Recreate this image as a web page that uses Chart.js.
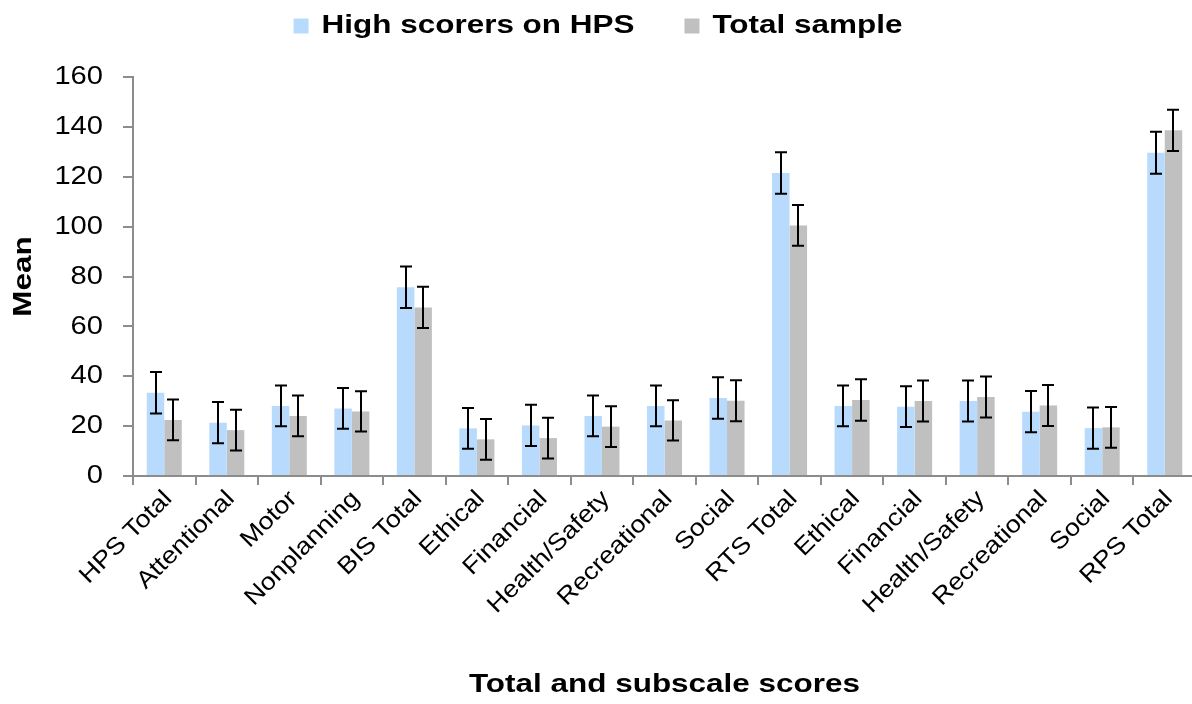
<!DOCTYPE html>
<html>
<head>
<meta charset="utf-8">
<script src="https://cdn.jsdelivr.net/npm/chart.js@4.4.1/dist/chart.umd.min.js"></script>
<style>
  html, body { margin: 0; padding: 0; background: #fff; overflow: hidden; }
  #wrap { width: 1200px; height: 704px; position: relative; }
</style>
</head>
<body>
<div id="wrap"><canvas id="c"></canvas></div>
<script>
// Subscale and total scores
const categories = ['HPS Total', 'Attentional', 'Motor', 'Nonplanning', 'BIS Total',
  'Ethical', 'Financial', 'Health/Safety', 'Recreational', 'Social', 'RTS Total',
  'Ethical', 'Financial', 'Health/Safety', 'Recreational', 'Social', 'RPS Total'];

// Means
const highScorers = [33.4, 21.4, 28.1, 27.1, 75.7, 19.1, 20.3, 24.1, 28.1, 31.3, 121.5, 28.1, 27.8, 30.1, 25.8, 19.2, 129.6];
const totalSample = [22.5, 18.4, 24.1, 25.9, 67.6, 14.7, 15.2, 19.8, 22.3, 30.2, 100.5, 30.5, 30.1, 31.7, 28.3, 19.5, 138.6];

// Error bar half-lengths
const highScorersErr = [8.3, 8.3, 8.2, 8.2, 8.3, 8.2, 8.3, 8.2, 8.2, 8.3, 8.3, 8.2, 8.2, 8.2, 8.3, 8.3, 8.4];
const totalSampleErr = [8.2, 8.2, 8.2, 8.1, 8.3, 8.2, 8.2, 8.2, 8.1, 8.2, 8.2, 8.3, 8.2, 8.2, 8.2, 8.2, 8.3];

const yTicks = [0, 20, 40, 60, 80, 100, 120, 140, 160];

const FONT = 'Liberation Sans, Arial, sans-serif';
const AXIS_GREY = '#8c8c8c';

// Wide lettering: each text run is stretched along its baseline,
// bold runs a little more than regular ones.
const STRETCH_BOLD = 1.21;
const STRETCH_REGULAR = 1.12;
(function () {
  const proto = CanvasRenderingContext2D.prototype;
  const fill = proto.fillText;
  const measure = proto.measureText;
  const stretchOf = ctx => (/bold/.test(ctx.font) ? STRETCH_BOLD : STRETCH_REGULAR);
  proto.fillText = function (text, x, y) {
    const s = stretchOf(this);
    this.save();
    this.translate(x, y);
    this.scale(s, 1);
    fill.call(this, text, 0, 0);
    this.restore();
  };
  proto.measureText = function (text) {
    const s = stretchOf(this);
    const m = measure.call(this, text);
    return {
      width: m.width * s,
      actualBoundingBoxLeft: m.actualBoundingBoxLeft * s,
      actualBoundingBoxRight: m.actualBoundingBoxRight * s,
      actualBoundingBoxAscent: m.actualBoundingBoxAscent,
      actualBoundingBoxDescent: m.actualBoundingBoxDescent,
      fontBoundingBoxAscent: m.fontBoundingBoxAscent,
      fontBoundingBoxDescent: m.fontBoundingBoxDescent
    };
  };
})();

// Legend band: fixed height above the plot, items drawn near the top
const LEGEND_BAND = 77;
const LEGEND_LIFT = 37;
const legendBand = {
  id: 'legendBand',
  beforeInit(chart) {
    const legend = chart.legend;
    if (!legend) return;
    const fit = legend.fit;
    legend.fit = function () {
      fit.call(this);
      this.height = LEGEND_BAND;
    };
    const draw = legend.draw;
    legend.draw = function () {
      const ctx = this.ctx;
      ctx.save();
      ctx.translate(0, -LEGEND_LIFT);
      draw.apply(this, arguments);
      ctx.restore();
    };
  }
};

// Capped error bars on every bar, placed with the value scale
const errorBars = {
  id: 'errorBars',
  afterDatasetsDraw(chart) {
    const ctx = chart.ctx;
    const yScale = chart.scales.y;
    ctx.save();
    ctx.strokeStyle = '#000';
    ctx.lineWidth = 2;
    chart.data.datasets.forEach((ds, i) => {
      const meta = chart.getDatasetMeta(i);
      meta.data.forEach((bar, j) => {
        const v = ds.data[j];
        const e = ds.errors[j];
        const top = yScale.getPixelForValue(v + e);
        const bot = yScale.getPixelForValue(v - e);
        const x = Math.round(bar.x);
        const cap = 6;
        ctx.beginPath();
        ctx.moveTo(x, top); ctx.lineTo(x, bot);
        ctx.moveTo(x - cap, top); ctx.lineTo(x + cap, top);
        ctx.moveTo(x - cap, bot); ctx.lineTo(x + cap, bot);
        ctx.stroke();
      });
    });
    ctx.restore();
  }
};

new Chart(document.getElementById('c'), {
  type: 'bar',
  data: {
    labels: categories,
    datasets: [
      { label: 'High scorers on HPS', data: highScorers, errors: highScorersErr,
        backgroundColor: '#b8dbfd', borderWidth: 0 },
      { label: 'Total sample', data: totalSample, errors: totalSampleErr,
        backgroundColor: '#c0c0c0', borderWidth: 0 }
    ]
  },
  options: {
    responsive: true,
    maintainAspectRatio: false,
    animation: false,
    layout: { padding: { top: 0, right: 4, left: 0, bottom: 0 } },
    datasets: { bar: { categoryPercentage: 0.56, barPercentage: 1.0 } },
    plugins: {
      legend: {
        position: 'top',
        labels: {
          font: { family: FONT, size: 26, weight: 'bold' },
          color: '#000',
          boxWidth: 15, boxHeight: 15,
          padding: 50
        }
      },
      tooltip: { enabled: false }
    },
    scales: {
      x: {
        grid: { display: true, drawOnChartArea: false, drawTicks: true, tickLength: 9, color: AXIS_GREY, lineWidth: 2, offset: true },
        border: { display: true, color: AXIS_GREY, width: 2 },
        ticks: { font: { family: FONT, size: 24 }, color: '#000', minRotation: 45, maxRotation: 45, autoSkip: false, padding: 0, labelOffset: 4 },
        title: { display: true, text: 'Total and subscale scores', font: { family: FONT, size: 26, weight: 'bold' }, color: '#000', padding: { top: 4, bottom: 4 } },
        afterFit(scale) { scale.height = 228; }
      },
      y: {
        min: 0, max: 160,
        afterBuildTicks(scale) { scale.ticks = yTicks.map(v => ({ value: v })); },
        grid: { display: true, drawOnChartArea: false, drawTicks: true, tickLength: 10, color: AXIS_GREY, lineWidth: 2 },
        border: { display: true, color: AXIS_GREY, width: 2 },
        ticks: { font: { family: FONT, size: 26 }, color: '#000', padding: 20 },
        title: { display: true, text: 'Mean', font: { family: FONT, size: 26, weight: 'bold' }, color: '#000', padding: { top: 8, bottom: 0 } },
        afterFit(scale) { scale.width = 133; }
      }
    }
  },
  plugins: [legendBand, errorBars]
});
</script>
</body>
</html>
